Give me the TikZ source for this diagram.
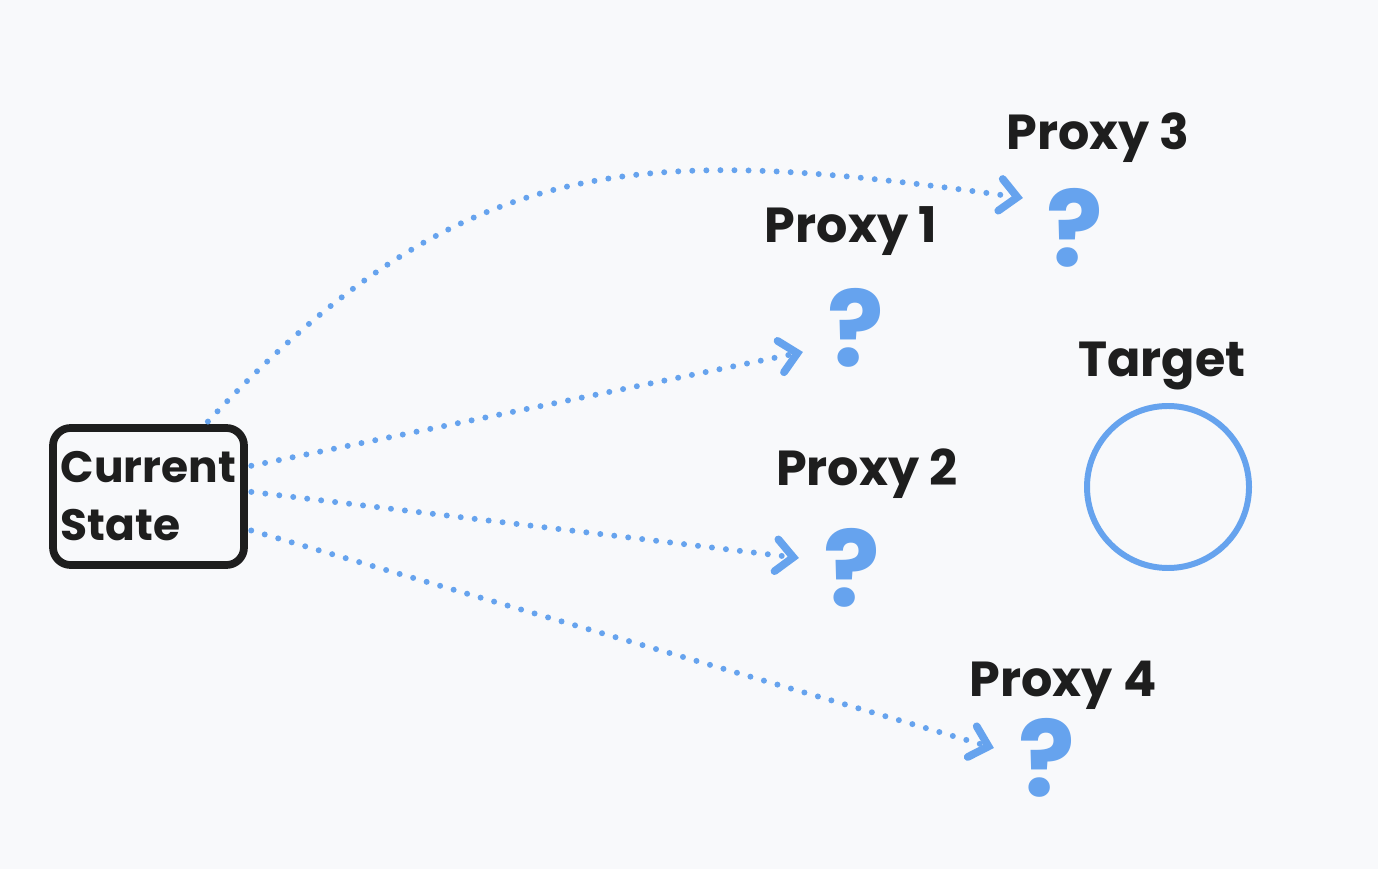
\documentclass[tikz,border=0pt]{standalone}
\usepackage{fontspec}
\setmainfont{Poppins}
\usepackage{xcolor}
\usepackage{tikz}
\usetikzlibrary{arrows.meta, positioning}
\definecolor{colBg}{RGB}{248,249,251}
\definecolor{colInk}{RGB}{30,30,30}
\definecolor{colBlue}{RGB}{102,163,238}

\begin{document}
\begin{tikzpicture}[>={Straight Barb[length=1.7mm, width=3.2mm, line width=2.2pt, line cap=round]},
    lbl/.style={colInk, font=\fontsize{14}{17}\selectfont\bfseries},
    qmark/.style={colBlue, font=\fontsize{30}{34}\selectfont\bfseries, inner sep=2pt},
    flow/.style={->, colBlue, line width=1.7pt, line cap=round,
                 dash pattern=on 0pt off 4pt, shorten <=1pt}]

% Fond
\fill[colBg] (0,0) rectangle (13.78,8.69);
\useasboundingbox (0,0) rectangle (13.78,8.69);

% Etat courant
\node[draw=colInk, line width=2.2pt, rounded corners=5pt,
      minimum width=1.91cm, minimum height=1.37cm, align=left,
      inner sep=2pt, colInk, font=\fontsize{12.5}{16.5}\selectfont\bfseries]
    (cs) at (1.485,3.725) {Current\\State};

% Proxys
\node[qmark] (q1) at (8.56,5.41) {?};
\node[qmark] (q2) at (8.52,3.01) {?};
\node[qmark] (q3) at (10.75,6.41) {?};
\node[qmark] (q4) at (10.47,1.11) {?};
\node[lbl] (l1) at (8.51,6.38) {Proxy 1};
\node[lbl] (l2) at (8.67,3.95) {Proxy 2};
\node[lbl] (l3) at (10.98,7.31) {Proxy 3};
\node[lbl] (l4) at (10.63,1.84) {Proxy 4};

% Cible
\node[lbl] (tl) at (11.62,5.03) {Target};
\node[draw=colBlue, line width=1.7pt, circle, minimum size=1.62cm] (tgt)
    at (11.68,3.82) {};

% Fleches
\draw[flow] ([xshift=0.57cm]cs.north) to[out=47, in=172, looseness=1.15]
    ([xshift=-0.16cm, yshift=0.3cm]q3.west);
\draw[flow] ([yshift=0.3cm]cs.east) -- ([xshift=-0.17cm, yshift=-0.24cm]q1.west);
\draw[flow] ([yshift=0.05cm]cs.east) -- ([xshift=-0.17cm, yshift=0.1cm]q2.west);
\draw[flow] ([yshift=-0.33cm]cs.east) -- ([xshift=-0.17cm, yshift=0.1cm]q4.west);

\end{tikzpicture}
\end{document}
